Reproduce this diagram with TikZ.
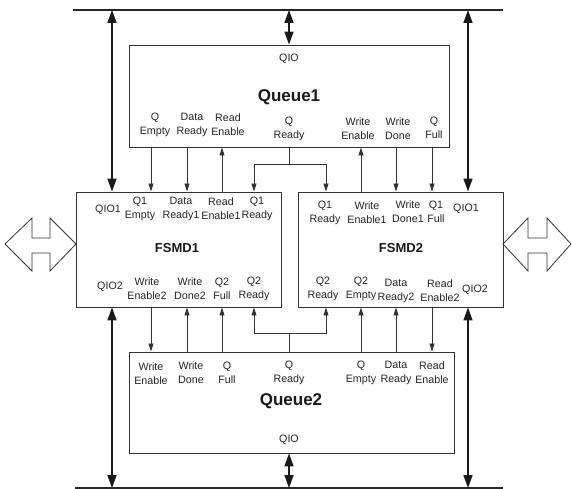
\documentclass[tikz,border=0pt]{standalone}
\usepackage{fontspec}
\setmainfont{Liberation Sans}
\usetikzlibrary{arrows.meta}
\begin{document}
\begin{tikzpicture}[x=1pt,y=-1pt,
  box/.style={draw=black!80, line width=0.9pt, rectangle, inner sep=0pt},
  lbl/.style={font=\fontsize{10.7}{14}\selectfont, align=center, text=black!85, inner sep=0pt},
  ttl/.style={font=\fontsize{17}{19}\selectfont\bfseries, text=black!90, inner sep=0pt},
  fttl/.style={font=\fontsize{13}{15}\selectfont\bfseries, text=black!90, inner sep=0pt},
  sig/.style={line width=0.8pt, draw=black!80},
  sigarr/.style={sig, -{Triangle[length=8pt,width=5pt]}},
  bus/.style={line width=1.6pt, draw=black!85},
  big/.style={line width=1.6pt, draw=black!90, {Triangle[length=13pt,width=9pt]}-{Triangle[length=13pt,width=9pt]}},
  hollow/.style={draw=black!80, line width=0.8pt, fill=white}
]
\useasboundingbox (0,0) rectangle (572,489);

% buses
\coordinate (bt1) at (73,10);
\coordinate (bt2) at (503,10);
\coordinate (bb1) at (75,488);
\coordinate (bb2) at (503,488);
\draw[bus] (bt1) -- (bt2);
\draw[bus] (bb1) -- (bb2);

% boxes
\node[box, minimum width=320pt, minimum height=102pt] (q1) at (289,96) {};
\node[box, minimum width=205pt, minimum height=115pt] (f1) at (178.5,249.5) {};
\node[box, minimum width=205pt, minimum height=115pt] (f2) at (400.5,249.5) {};
\node[box, minimum width=325pt, minimum height=101pt] (q2) at (291.5,402.5) {};

% Queue1 texts
\node[lbl] (q1qio) at (289,59) {QIO};
\node[ttl] (q1t) at (289,97) {Queue1};
\node[lbl] (q1a) at (155,125) {Q\\Empty};
\node[lbl] (q1b) at (192,125) {Data\\Ready};
\node[lbl] (q1c) at (228,124.5) {Read\\Enable};
\node[lbl] (q1d) at (289,128.5) {Q\\Ready};
\node[lbl] (q1e) at (358,129) {Write\\Enable};
\node[lbl] (q1f) at (398,128.5) {Write\\Done};
\node[lbl] (q1g) at (434,127.5) {Q\\Full};

% FSMD1 texts
\node[lbl] (f1qio1) at (108,210) {QIO1};
\node[lbl] (f1a) at (140,209) {Q1\\Empty};
\node[lbl] (f1b) at (181,209) {Data\\Ready1};
\node[lbl] (f1c) at (221,209) {Read\\Enable1};
\node[lbl] (f1d) at (257,209) {Q1\\Ready};
\node[fttl] (f1t) at (177,248) {FSMD1};
\node[lbl] (f1qio2) at (110,287) {QIO2};
\node[lbl] (f1e) at (147,289) {Write\\Enable2};
\node[lbl] (f1f) at (190,289) {Write\\Done2};
\node[lbl] (f1g) at (222,289) {Q2\\Full};
\node[lbl] (f1h) at (254,289) {Q2\\Ready};

% FSMD2 texts
\node[lbl] (f2a) at (325,212.5) {Q1\\Ready};
\node[lbl] (f2b) at (367,213) {Write\\Enable1};
\node[lbl] (f2c) at (408,212) {Write\\Done1};
\node[lbl] (f2d) at (436,212) {Q1\\Full};
\node[lbl] (f2qio1) at (466,209) {QIO1};
\node[fttl] (f2t) at (401,248) {FSMD2};
\node[lbl] (f2e) at (323,289) {Q2\\Ready};
\node[lbl] (f2f) at (361,289) {Q2\\Empty};
\node[lbl] (f2g) at (396,290.5) {Data\\Ready2};
\node[lbl] (f2h) at (440,291) {Read\\Enable2};
\node[lbl] (f2qio2) at (475,290) {QIO2};

% Queue2 texts
\node[lbl] (q2a) at (151,374) {Write\\Enable};
\node[lbl] (q2b) at (191,373) {Write\\Done};
\node[lbl] (q2c) at (227,373) {Q\\Full};
\node[lbl] (q2d) at (289,373) {Q\\Ready};
\node[lbl] (q2e) at (361,373) {Q\\Empty};
\node[lbl] (q2f) at (396,373) {Data\\Ready};
\node[lbl] (q2g) at (432,373) {Read\\Enable};
\node[ttl] (q2t) at (291,401) {Queue2};
\node[lbl] (q2qio) at (289,440) {QIO};

% big bus arrows
\draw[big] (112,0 |- bt1) -- (112,0 |- f1.north);
\draw[big] (468,0 |- bt1) -- (468,0 |- f2.north);
\draw[big] (289,0 |- bt1) -- (289,0 |- q1.north);
\draw[big] (112,0 |- f1.south) -- (112,0 |- bb1);
\draw[big] (468,0 |- f2.south) -- (468,0 |- bb1);
\draw[big] (289,0 |- q2.south) -- (289,0 |- bb1);

% Queue1 <-> FSMDs
\draw[sigarr] (151,0 |- q1.south) -- (151,0 |- f1.north);
\draw[sigarr] (187,0 |- q1.south) -- (187,0 |- f1.north);
\draw[sigarr] (222,0 |- f1.north) -- (222,0 |- q1.south);
\coordinate (qs1) at (289,164);
\draw[sig] (289,0 |- q1.south) -- (qs1);
\draw[sigarr] (qs1) -| (254,0 |- f1.north);
\draw[sigarr] (qs1) -| (326,0 |- f2.north);
\draw[sigarr] (361,0 |- f2.north) -- (361,0 |- q1.south);
\draw[sigarr] (396,0 |- q1.south) -- (396,0 |- f2.north);
\draw[sigarr] (432,0 |- q1.south) -- (432,0 |- f2.north);

% FSMDs <-> Queue2
\draw[sigarr] (151,0 |- f1.south) -- (151,0 |- q2.north);
\draw[sigarr] (187,0 |- q2.north) -- (187,0 |- f1.south);
\draw[sigarr] (222,0 |- q2.north) -- (222,0 |- f1.south);
\coordinate (qs2) at (289,333);
\draw[sig] (289,0 |- q2.north) -- (qs2);
\draw[sigarr] (qs2) -| (254,0 |- f1.south);
\draw[sigarr] (qs2) -| (326,0 |- f2.south);
\draw[sigarr] (361,0 |- q2.north) -- (361,0 |- f2.south);
\draw[sigarr] (396,0 |- q2.north) -- (396,0 |- f2.south);
\draw[sigarr] (432,0 |- f2.south) -- (432,0 |- q2.north);

% hollow double arrows
\draw[hollow] (5,244) -- (32,218) -- (32,238) -- (50,238) -- (50,218) -- (76,244)
  -- (50,271) -- (50,253) -- (32,253) -- (32,271) -- cycle;
\draw[hollow] (503,244) -- (528,218) -- (528,238) -- (547,238) -- (547,218) -- (571,244)
  -- (547,271) -- (547,253) -- (528,253) -- (528,271) -- cycle;
\end{tikzpicture}
\end{document}
